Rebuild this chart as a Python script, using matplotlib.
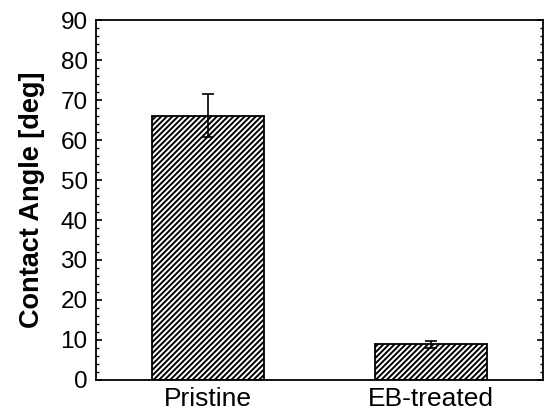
import matplotlib
matplotlib.use("Agg")
import matplotlib.pyplot as plt
from matplotlib.ticker import MultipleLocator

categories = ["Pristine", "EB-treated"]
values = [66.1, 8.9]
errors = [5.4, 0.85]

plt.rcParams['font.family'] = ['Liberation Sans', 'DejaVu Sans']
plt.rcParams['hatch.linewidth'] = 1.4

fig = plt.figure(figsize=(5.48, 4.12), dpi=100)
ax = fig.add_axes([96/548, 1-380/412, (543-96)/548, (380-20)/412])

x = [1, 2]
ax.bar(x, values, width=0.5, color='white', edgecolor='black', linewidth=1.3,
       hatch='//////', zorder=2)
ax.errorbar(x, values, yerr=errors, fmt='none', ecolor='black', elinewidth=1.2,
            capsize=4, capthick=1.2, zorder=3)

ax.set_xlim(0.5, 2.5)
ax.set_ylim(0, 90)
ax.set_xticks(x)
ax.set_xticklabels(categories, fontsize=19)
ax.yaxis.set_major_locator(MultipleLocator(10))
ax.yaxis.set_minor_locator(MultipleLocator(2))
ax.tick_params(axis='y', which='both', direction='in', left=True, right=True, labelsize=17.5)
ax.tick_params(axis='y', which='major', length=4, width=1.2, pad=6)
ax.tick_params(axis='y', which='minor', length=2.5, width=1)
ax.tick_params(axis='x', direction='in', length=3, width=1.2, pad=5)
ax.set_ylabel("Contact Angle [deg]", fontsize=19.5, fontweight='bold', labelpad=11)
for s in ax.spines.values():
    s.set_linewidth(1.3)

fig.savefig("out.png", dpi=100)
